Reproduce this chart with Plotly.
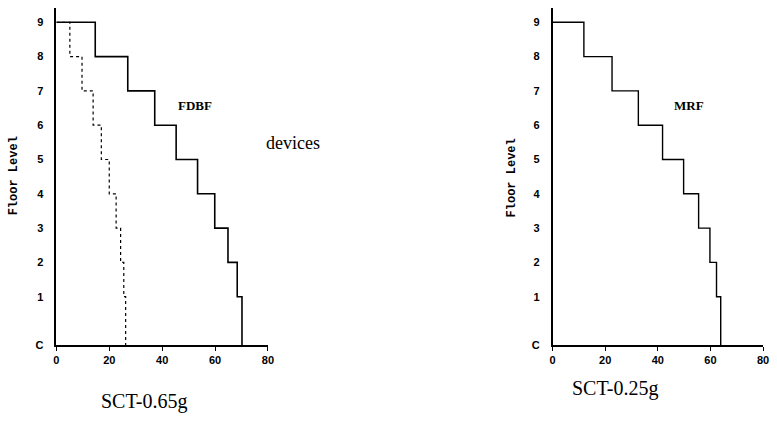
import plotly.graph_objects as go

# Floor labels (C = ground, drawn slightly lower than a full storey)
floor_pos = [-0.41, 1, 2, 3, 4, 5, 6, 7, 8, 9]
floor_text = ["C", "1", "2", "3", "4", "5", "6", "7", "8", "9"]

# Step edges: x where each floor's horizontal segment ends (floors 9 .. 1)
fdbf_solid = [14.7, 27.0, 37.2, 45.3, 53.4, 59.9, 64.9, 68.4, 70.2]
fdbf_dotted = [5.1, 9.7, 13.9, 17.0, 20.0, 22.6, 24.3, 25.5, 26.2]
mrf_solid = [11.9, 22.6, 32.6, 41.8, 49.8, 55.5, 59.8, 62.3, 63.9]

x_ticks = [0, 20, 40, 60, 80]
step_levels = [9, 8, 7, 6, 5, 4, 3, 2, 1, -0.41]


def step_xy(edges):
    xs = [0] + edges
    ys = step_levels
    return xs, ys


fig = go.Figure()

x, y = step_xy(fdbf_solid)
fig.add_trace(go.Scatter(x=x, y=y, mode="lines", line_shape="hv",
                         line=dict(color="black", width=1.6),
                         xaxis="x", yaxis="y", showlegend=False))
x, y = step_xy(fdbf_dotted)
fig.add_trace(go.Scatter(x=x, y=y, mode="lines", line_shape="hv",
                         line=dict(color="black", width=1.2, dash="dot"),
                         xaxis="x", yaxis="y", showlegend=False))
x, y = step_xy(mrf_solid)
fig.add_trace(go.Scatter(x=x, y=y, mode="lines", line_shape="hv",
                         line=dict(color="black", width=1.4),
                         xaxis="x2", yaxis="y2", showlegend=False))

tickfont = dict(family="Liberation Sans", size=11, color="black")
ydom = [1 - 350 / 424, 1 - 8 / 424]

common_x = dict(range=[0, 80], tickvals=x_ticks, ticktext=[f"<b>{v}</b>" for v in x_ticks],
                showline=True, linecolor="black", linewidth=1.5, ticks="outside",
                ticklen=4, tickwidth=1.2, tickcolor="black", showgrid=False,
                zeroline=False, tickfont=tickfont)
common_y = dict(range=[-0.41, 9.42], tickvals=floor_pos, ticktext=[f"<b>{t}</b>" for t in floor_text],
                showline=True, linecolor="black", linewidth=1.5, ticks="",
                showgrid=False, zeroline=False, tickfont=tickfont,
                ticklabelstandoff=9)

fig.update_layout(
    width=777, height=424,
    margin=dict(l=0, r=0, t=0, b=0),
    paper_bgcolor="white", plot_bgcolor="white",
    xaxis=dict(domain=[54 / 777, 268 / 777], anchor="y", **common_x),
    yaxis=dict(domain=ydom, anchor="x", **common_y),
    xaxis2=dict(domain=[556 / 777, 769 / 777], anchor="y2", **common_x),
    yaxis2=dict(domain=ydom, anchor="x2", **common_y),
)

serif = "Liberation Serif"
mono = "Liberation Mono"


def pann(x, y, text, font, angle=0):
    return dict(x=x / 777, y=1 - y / 424, xref="paper", yref="paper", text=text,
                showarrow=False, xanchor="center", yanchor="middle",
                textangle=angle, font=font)


ann = [
    dict(x=52.4, y=6.57, xref="x", yref="y", text="<b>FDBF</b>", showarrow=False,
         xanchor="center", yanchor="middle",
         font=dict(family=serif, size=13, color="black")),
    dict(x=51.7, y=6.57, xref="x2", yref="y2", text="<b>MRF</b>", showarrow=False,
         xanchor="center", yanchor="middle",
         font=dict(family=serif, size=13, color="black")),
    pann(293, 145, "devices", dict(family=serif, size=18, color="black")),
    pann(143, 407, "SCT-0.65g", dict(family=serif, size=20, color="black")),
    pann(620, 394, "SCT-0.25g", dict(family=serif, size=20, color="black")),
    pann(12, 178, "<b>Floor Level</b>", dict(family=mono, size=12, color="black"), -90),
    pann(515, 181, "<b>Floor Level</b>", dict(family=mono, size=12, color="black"), -90),
]
fig.update_layout(annotations=ann)

fig.write_html("out.html")
